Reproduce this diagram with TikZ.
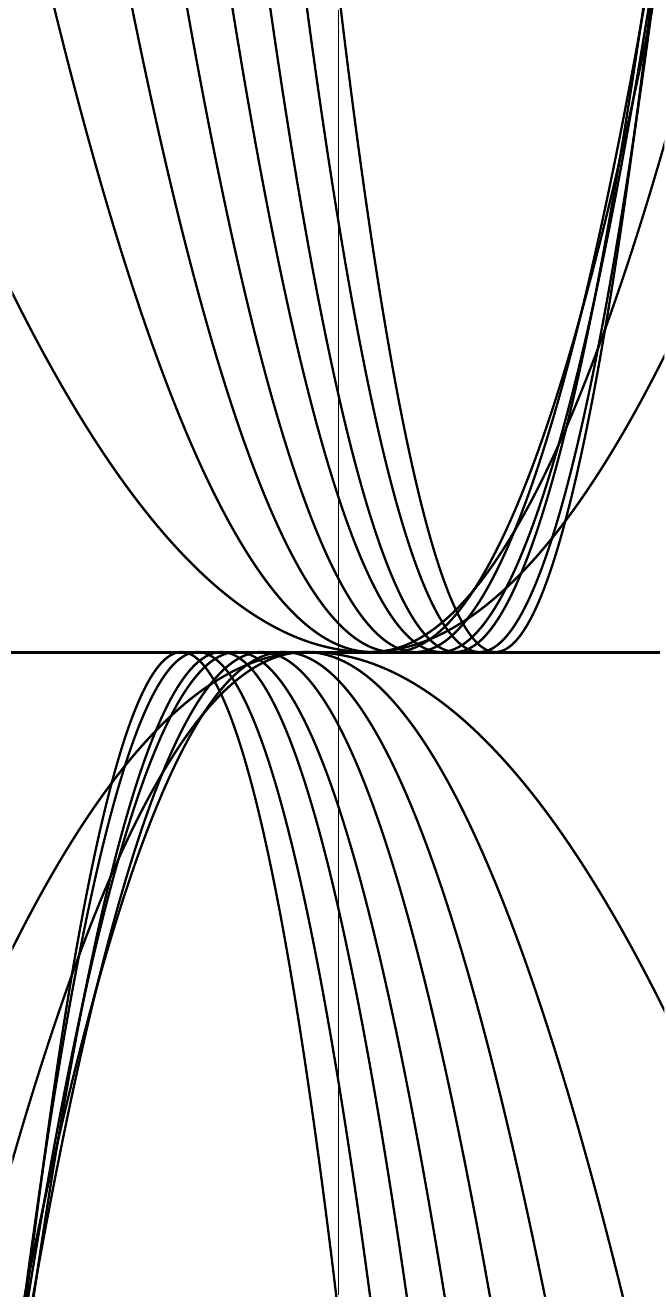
\documentclass[tikz,border=0pt]{standalone}
\usepackage{tikz}
\tikzset{
    curva/.style={line width=0.65pt, line join=round},
    eje/.style={line width=0.85pt}
}

\begin{document}
\begin{tikzpicture}[x=0.1mm, y=0.1mm]

    \useasboundingbox (-338.5,-653) rectangle (327.5,652);

    % Ejes
    \coordinate (izq)    at (-327.5,0);
    \coordinate (der)    at (321.5,0);
    \coordinate (arriba) at (0,642);
    \coordinate (abajo)  at (0,-643);
    \draw[eje] (izq) -- (der);
    \draw[curva, line width=0.45pt] (arriba) -- (abajo);

    % Familia de parabolas tangentes al eje
    % (vertice, abertura izquierda, abertura derecha)
    \begin{scope}
        \clip (-326,-644) rectangle (326,644);
        \foreach \a/\kl/\kr in {30/18.8/17.2, 33/12.5/13.0, 55/10.3/10.2,
                                77/9/9, 102/8.2/8.2, 117/7.3/7.4,
                                141/6.8/6.8, 157/6.1/6.1} {
            \pgfmathsetmacro{\ini}{\a-26*\kl}
            \pgfmathsetmacro{\fin}{\a+26*\kr}
            % arriba
            \draw[curva] plot[domain=\ini:\a, samples=60, smooth]
                (\x, {((\x-\a)/\kl)^2})
                -- plot[domain=\a:\fin, samples=60, smooth]
                (\x, {((\x-\a)/\kr)^2});
            % abajo (simetria central)
            \draw[curva, rotate=180] plot[domain=\ini:\a, samples=60, smooth]
                (\x, {((\x-\a)/\kl)^2})
                -- plot[domain=\a:\fin, samples=60, smooth]
                (\x, {((\x-\a)/\kr)^2});
        }
    \end{scope}

\end{tikzpicture}
\end{document}
